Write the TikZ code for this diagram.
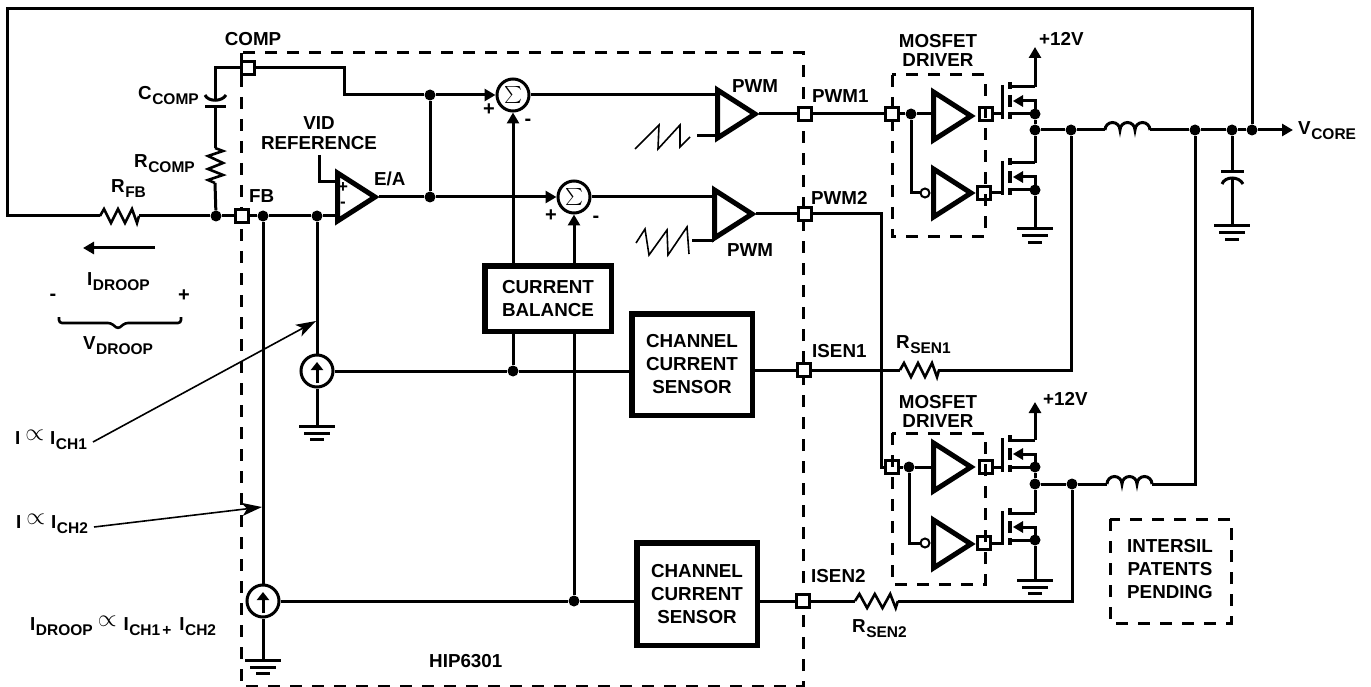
\documentclass[tikz,border=0pt]{standalone}
\usepackage{fontspec}
\setmainfont{Liberation Sans}
\usetikzlibrary{arrows.meta}
\newcommand\sbs[1]{\kern.5pt\raisebox{-5pt}{\fontsize{15.5}{16}\selectfont #1}}
\newcommand\prop{\raisebox{4pt}{\scalebox{1.4}{\normalfont$\propto$}}}
\tikzset{
  wire/.style={line width=3pt,line cap=butt,line join=miter,miter limit=10},
  fine/.style={line width=1.6pt,line join=miter},
  dashbox/.style={line width=3pt,dash pattern=on 12pt off 10pt},
  head/.style={-{Triangle[length=11pt,width=12pt]}},
  finehead/.style={-{Stealth[length=20pt,width=13pt,inset=5pt]}},
  txt/.style={font=\bfseries\fontsize{18.8}{23}\selectfont,inner sep=0pt,anchor=base,align=center},
  txl/.style={txt,anchor=base west},
  txc/.style={txt,anchor=center},
  sgn/.style={txc,font=\bfseries\fontsize{20}{20}\selectfont},
  sgs/.style={txc,font=\bfseries\fontsize{17}{17}\selectfont},
  dotn/.style={circle,fill=black,inner sep=0pt,minimum size=11pt},
  pinbox/.style={rectangle,draw,line width=3pt,inner sep=0pt,minimum size=12.5pt},
  pinw/.style={pinbox,fill=white},
  sumc/.style={circle,draw,fill=white,line width=3pt,inner sep=0pt,minimum size=32pt},
  bubble/.style={circle,draw,fill=white,line width=2pt,inner sep=0pt,minimum size=9pt},
  bigbox/.style={rectangle,draw,fill=white,line width=5.5pt,inner sep=0pt,font=\bfseries\fontsize{18.8}{23}\selectfont,align=center},
  amp/.pic={
    \draw[line width=5pt,line join=miter,miter limit=10] (2.5,-24)--(40,0)--(2.5,24)--cycle;
    \coordinate (-out) at (44,0);
    \coordinate (-left) at (2,0);
  },
  gnd/.pic={
    \draw[wire] (-18,0)--(18,0) (-13,7)--(13,7) (-7,13.5)--(7,13.5);
  },
  zig/.pic={
    \draw[line width=2.6pt,line join=miter] (0,0)--(4,-7)--(11,7)--(18,-7)--(25,7)--(32,-7)--(37,7)--(39,0);
  },
  coil/.pic={
    \draw[wire] (0,0) arc[start angle=180,end angle=0,radius=7.5pt]
      arc[start angle=180,end angle=0,radius=7.5pt]
      arc[start angle=180,end angle=0,radius=7.5pt];
    \coordinate (-l) at (0,0);
    \coordinate (-r) at (45,0);
  },
  mos/.pic={
    \draw[wire] (-33,-29)--(-33,5);
    \draw[line width=3.5pt] (-25,-32)--(-25,-25) (-25,-19)--(-25,-7) (-25,-2)--(-25,5);
    \draw[wire] (-25,-27)--(0,-27);
    \draw[wire] (-25,0)--(0,0);
    \draw[wire] (0,0)--(0,-13)--(-12,-13);
    \fill (-22,-13)--(-12,-19)--(-12,-7)--cycle;
    \coordinate (-drain) at (0,-27);
    \coordinate (-source) at (0,0);
    \coordinate (-gate) at (-33,0);
  },
}
\begin{document}
\begin{tikzpicture}[x=1pt,y=-1pt]
\useasboundingbox (0,0) rectangle (1371,687);
% dashed enclosures
\draw[dashbox] (241,53) rectangle (803,686);
\draw[dashbox] (892,75) rectangle (985,237);
\draw[dashbox] (892,433) rectangle (985,584);
\draw[dashbox] (1110,519) rectangle (1231,623);

% pins
\node[pinw] (comp) at (248,68) {};
\node[pinw] (fb) at (242,216) {};
\node[pinw] (pwm1) at (805,114) {};
\node[pinw] (pwm2) at (805,214) {};
\node[pinw] (isen1) at (804,370) {};
\node[pinw] (isen2) at (803,601) {};
\node[pinbox] (d1in) at (892,114) {};
\node[pinbox] (d1hi) at (986,114) {};
\node[pinbox] (d1lo) at (984,193) {};
\node[pinbox] (d2in) at (892,467) {};
\node[pinbox] (d2hi) at (986,467) {};
\node[pinbox] (d2lo) at (984,543) {};

% junctions
\node[dotn] (jfb) at (216,216) {};
\node[dotn] (jfb2) at (263,216) {};
\node[dotn] (jfb3) at (317,216) {};
\node[dotn] (jc) at (430,95) {};
\node[dotn] (je) at (430,197) {};
\node[dotn] (jb) at (513,371) {};
\node[dotn] (jd) at (574,601) {};
\node[dotn] (j1i) at (911,114) {};
\node[dotn] (j2i) at (909,467) {};
\node[dotn] (j1s) at (1035,114) {};
\node[dotn] (j1o) at (1035,130) {};
\node[dotn] (j1b) at (1035,190) {};
\node[dotn] (j2s) at (1035,467) {};
\node[dotn] (j2o) at (1035,484) {};
\node[dotn] (j2b) at (1035,540) {};
\node[dotn] (ja) at (1071,130) {};
\node[dotn] (jf) at (1072,484) {};
\node[dotn] (jl) at (1195,130) {};
\node[dotn] (jcap) at (1232,130) {};
\node[dotn] (jv) at (1252,130) {};

% summers and sources
\node[sumc] (sum1) at (513,95) {\scalebox{1.7}{$\sum$}};
\node[sumc] (sum2) at (574,197) {\scalebox{1.7}{$\sum$}};
\node[sumc] (src1) at (317,371) {};
\node[sumc] (src2) at (263,601) {};

% blocks
\node[bigbox,minimum width=126.5pt,minimum height=65.5pt] (bal) at (548,298.5) {CURRENT\\BALANCE};
\node[bigbox,minimum width=120.5pt,minimum height=101.5pt] (sen1) at (692,364.5) {CHANNEL\\CURRENT\\SENSOR};
\node[bigbox,minimum width=120.5pt,minimum height=102.5pt] (sen2) at (697,594) {CHANNEL\\CURRENT\\SENSOR};

% amplifiers
\pic (oa) at (335,197) {amp};
\pic (a1) at (715,114) {amp};
\pic (a2) at (712,214) {amp};
\pic (b1) at (931,116) {amp};
\pic (b2) at (931,193) {amp};
\pic (b3) at (931,467) {amp};
\pic (b4) at (931,544) {amp};
\node[bubble] (bb1) at (925,193) {};
\node[bubble] (bb2) at (925,543) {};

% MOSFETs
\pic (m1) at (1035,114) {mos};
\pic (m2) at (1035,190) {mos};
\pic (m3) at (1035,467) {mos};
\pic (m4) at (1035,540) {mos};

% grounds
\pic at (317,426) {gnd};
\pic at (263,660) {gnd};
\pic at (1035,580) {gnd};
\pic at (1035,229) {gnd};
\pic at (1232,226) {gnd};

% resistors and inductors
\coordinate (rfbl) at (100,216); \coordinate (rfbr) at (139,216);
\pic at (rfbl) {zig};
\coordinate (rs1l) at (900,370); \coordinate (rs1r) at (938,370);
\pic at (rs1l) {zig};
\coordinate (rs2l) at (855,601); \coordinate (rs2r) at (898,601);
\pic[xscale=1.1] at (rs2l) {zig};
\coordinate (rctop) at (215,148); \coordinate (rcbot) at (215,183);
\draw[line width=2.6pt,line join=miter] (rctop)--(223,151)--(208,156)--(223,163)--(208,169)--(223,175)--(208,180)--(rcbot);
\pic (l1) at (1105,130) {coil};
\pic (l2) at (1107,484) {coil};

% capacitors
\coordinate (cca) at (215,100); \coordinate (ccb) at (215,107);
\draw[wire] (205,95) .. controls (208,102) and (222,102) .. (226,95);
\draw[wire] (205,107)--(226,107);
\coordinate (coa) at (1232,172); \coordinate (cob) at (1232,178);
\draw[wire] (1221,172)--(1244,172);
\draw[wire] (1222,184) .. controls (1225,176) and (1239,176) .. (1243,184);

% wires
\coordinate (tl) at (7,9); \coordinate (tr) at (1252,9); \coordinate (bl) at (7,216);
\draw[wire] (rfbl)--(bl)--(tl)--(tr)--(jv);
\draw[wire] (rfbr)--(jfb)--(fb)--(jfb2)--(jfb3)--(oa-left|-jfb3);
\draw[wire] (jfb)--(rcbot);
\draw[wire] (rctop)--(ccb);
\draw[wire] (cca)--(cca|-comp)--(comp);
\coordinate (vidtop) at (319,155); \coordinate (vidbot) at (319,182);
\draw[wire] (vidtop)--(vidbot)--(336,182);
\draw[wire] (comp)--(344,68)--(344,95)--(jc);
\draw[wire,head] (jc)--(sum1.west);
\draw[wire] (oa-out)--(je);
\draw[wire] (jc)--(je);
\draw[wire,head] (je)--(sum2.west);
\draw[wire,head] (sum1.south|-bal.north)--(sum1.south);
\draw[wire,head] (sum2.south|-bal.north)--(sum2.south);
\draw[wire] (jb|-bal.south)--(jb);
\draw[wire] (sum2.south|-bal.south)--(jd);
\draw[wire] (sum1.east)--(sum1.east-|a1-left);
\draw[wire] (sum2.east)--(sum2.east-|a2-left);
\draw[wire] (a1-out)--(pwm1)--(d1in);
\draw[wire] (a2-out)--(pwm2)--(881,214)--(881,467)--(d2in);
\draw[wire] (jfb3)--(src1.north);
\draw[wire] (src1.south)--(317,426);
\draw[wire] (src1.east)--(jb)--(sen1.west|-jb);
\draw[wire] (sen1.east|-isen1)--(isen1)--(rs1l);
\draw[wire] (rs1r)--(1071,370)--(ja);
\draw[wire] (jfb2)--(src2.north);
\draw[wire] (src2.south)--(263,660);
\draw[wire] (src2.east)--(jd)--(sen2.west|-jd);
\draw[wire] (sen2.east|-isen2)--(isen2)--(rs2l);
\draw[wire] (rs2r)--(jf|-rs2r)--(jf);
% source arrows
\draw[wire,-{Triangle[length=8pt,width=12pt]}] (317,383)--(317,362);
\draw[wire,-{Triangle[length=8pt,width=12pt]}] (263,613)--(263,592);
% drivers
\draw[wire] (d1in)--(j1i)--(b1-left|-j1i);
\draw[wire] (j1i)--(911,193)--(bb1);
\draw[wire] (d2in)--(j2i)--(b3-left|-j2i);
\draw[wire] (j2i)--(909,543)--(bb2);
\draw[wire] (d1hi)--(m1-gate);
\draw[wire] (d1lo)--(1002,193);
\draw[wire] (d2hi)--(m3-gate);
\draw[wire] (d2lo)--(1002,543);
\draw[wire,head] (m1-drain)--(1035,47);
\draw[wire,head] (m3-drain)--(1035,402);
\draw[wire] (j1s)--(j1o)--(m2-drain);
\draw[wire] (j1b)--(1035,229);
\draw[wire] (j2s)--(j2o)--(m4-drain);
\draw[wire] (j2b)--(1035,580);
\draw[wire] (j1o)--(ja)--(l1-l);
\draw[wire] (l1-r)--(jl)--(jcap)--(jv);
\draw[wire,head] (jv)--(1293,130);
\draw[wire] (j2o)--(jf)--(l2-l);
\draw[wire] (l2-r)--(1195,484)--(jl);
\draw[wire] (jcap)--(coa);
\draw[wire] (cob)--(1232,226);
% droop arrow and brace
\coordinate (dra) at (155,248); \coordinate (drb) at (83,248);
\draw[wire,head] (dra)--(drb);
\draw[line width=2.6pt,rounded corners=3pt] (59,317)--(59,323)--(111,323)--(118,329)--(125,323)--(181,323)--(181,317);
% ramps
\draw[fine] (635,149)--(659,125)--(658,149)--(680,125)--(680,147)--(690,137);
\draw[fine] (636,243)--(645,229)--(649,255)--(667,230)--(668,255)--(687,227)--(689,254);
\coordinate (r1a) at (697,136); \coordinate (r2a) at (692,241);
\draw[wire] (r1a)--(r1a-|a1-left);
\draw[wire] (r2a)--(r2a-|a2-left);

% text
\node[txt] (tcomp) at (253,46) {COMP};
\node[txl] (tcc) at (138,100) {C\sbs{COMP}};
\node[txl] (trc) at (134,168) {R\sbs{COMP}};
\node[txl] (trfb) at (111,193) {R\sbs{FB}};
\node[txl] (tfb) at (249,203) {FB};
\node[txc] (tvid) at (319,133.5) {VID\\[-3pt]REFERENCE};
\node[txl] (tea) at (374,186) {E/A};
\node[sgs] (tp) at (343,188) {+};
\node[sgs] (tm) at (343,205) {-};
\node[sgn] (tp1) at (489,110) {+};
\node[sgn] (tm1) at (528,122) {-};
\node[sgn] (tp2) at (551,216) {+};
\node[sgn] (tm2) at (596,219) {-};
\node[txt] (tpa) at (755,93) {PWM};
\node[txt] (tpb) at (750,257) {PWM};
\node[txl] (tpwm1) at (812,103) {PWM1};
\node[txl] (tpwm2) at (811,205) {PWM2};
\node[txl] (tis1) at (812,357) {ISEN1};
\node[txl] (tis2) at (811,582) {ISEN2};
\node[txl] (trs1) at (896,348) {R\sbs{SEN1}};
\node[txl] (trs2) at (852,632) {R\sbs{SEN2}};
\node[txl] (thip) at (429,667) {HIP6301};
\node[txc] (tmd1) at (938,50) {MOSFET\\[-4pt]DRIVER};
\node[txc] (tmd2) at (938,411) {MOSFET\\[-4pt]DRIVER};
\node[txl] (t12a) at (1039,46) {+12V};
\node[txl] (t12b) at (1043,405) {+12V};
\node[txl] (tvc) at (1298,135) {V\sbs{CORE}};
\node[txc] (tint) at (1170,569) {INTERSIL\\PATENTS\\PENDING};
\node[txl] (tid) at (87,285) {I\sbs{DROOP}};
\node[txl] (tvd) at (83,349) {V\sbs{DROOP}};
\node[sgn] (tbm) at (53,297) {-};
\node[sgn] (tbp) at (184,296) {+};
\node[txl] (ti1) at (15,444) {I\kern5pt\prop\kern6pt I\sbs{CH1}};
\node[txl] (ti2) at (16,528) {I\kern5pt\prop\kern6pt I\sbs{CH2}};
\node[txl] (ti3) at (30,630) {I\sbs{DROOP}\kern5pt\prop\kern7pt I\sbs{CH1}\kern2pt\raisebox{-5pt}{\fontsize{15.5}{16}\selectfont +}\kern8pt I\sbs{CH2}};
% pointer arrows
\coordinate (p1) at (93,442); \coordinate (p1t) at (316,321);
\coordinate (p2) at (94,527); \coordinate (p2t) at (262,507);
\draw[fine,finehead] (p1)--(p1t);
\draw[fine,finehead] (p2)--(p2t);
\end{tikzpicture}
\end{document}
